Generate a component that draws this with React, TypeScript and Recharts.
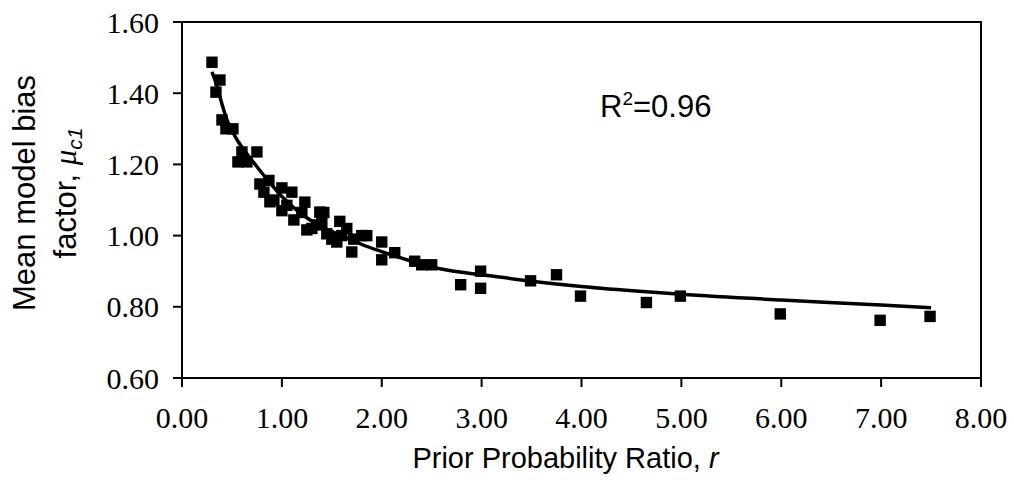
import React from 'react';
import {
  ComposedChart,
  Scatter,
  Line,
  XAxis,
  YAxis,
  ZAxis,
  ReferenceArea,
  Label,
} from 'recharts';

// observed points: prior probability ratio r vs mean model bias factor
const obsR = [
  0.30, 0.34, 0.38, 0.40, 0.44, 0.51, 0.56, 0.60, 0.65, 0.75,
  0.78, 0.82, 0.87, 0.88, 0.92, 1.00, 1.00, 1.05, 1.10, 1.12,
  1.20, 1.23, 1.25, 1.30, 1.35, 1.38, 1.40, 1.42, 1.45, 1.50,
  1.55, 1.58, 1.60, 1.65, 1.70, 1.72, 1.80, 1.85, 2.00, 2.00,
  2.13, 2.33, 2.40, 2.50, 2.79, 2.99, 2.99, 3.49, 3.75, 3.99,
  4.65, 4.99, 5.99, 6.99, 7.49,
];
const obsBias = [
  1.487, 1.403, 1.437, 1.325, 1.300, 1.300, 1.207, 1.235, 1.207, 1.235,
  1.145, 1.122, 1.155, 1.095, 1.100, 1.134, 1.070, 1.085, 1.122, 1.044,
  1.065, 1.094, 1.016, 1.020, 1.030, 1.066, 1.035, 1.065, 1.005, 0.990,
  0.982, 1.040, 1.000, 1.020, 0.954, 0.990, 1.000, 1.000, 0.982, 0.932,
  0.952, 0.928, 0.918, 0.918, 0.862, 0.900, 0.852, 0.873, 0.890, 0.830,
  0.812, 0.830, 0.780, 0.762, 0.773,
];

// fitted curve
const fitR = [
  0.30, 0.35, 0.40, 0.45, 0.50, 0.56, 0.65, 0.76, 0.86, 1.00,
  1.20, 1.40, 1.60, 1.80, 2.00, 2.30, 2.50, 2.80, 3.00, 3.50,
  4.00, 4.65, 5.00, 6.00, 7.00, 7.50,
];
const fitBias = [
  1.460, 1.420, 1.370, 1.325, 1.295, 1.265, 1.230, 1.190, 1.155, 1.110,
  1.060, 1.025, 1.000, 0.975, 0.955, 0.928, 0.912, 0.897, 0.890, 0.872,
  0.857, 0.842, 0.835, 0.819, 0.805, 0.797,
];

const xTicks = [0, 1, 2, 3, 4, 5, 6, 7, 8];
const yTicks = [0.6, 0.8, 1.0, 1.2, 1.4, 1.6];

const points = obsR.map((r, i) => ({ x: r, y: obsBias[i] }));
const fit = fitR.map((r, i) => ({ x: r, y: fitBias[i] }));

const SERIF = '"Liberation Serif", "Times New Roman", serif';
const SANS = '"Liberation Sans", Arial, sans-serif';
const tickStyle = { fontFamily: SERIF, fontSize: 30, fill: '#000' };

const YTitle = () => (
  <text
    transform="translate(0,193) rotate(-90)"
    textAnchor="middle"
    fontFamily={SANS}
    fontSize={31}
    fill="#000"
  >
    <tspan x={0} y={35}>Mean model bias</tspan>
    <tspan x={0} y={76}>
      factor,{' '}
      <tspan fontStyle="italic" fontFamily={SERIF}>μ</tspan>
      <tspan fontStyle="italic" fontSize={21} dy={6}>c1</tspan>
    </tspan>
  </text>
);

const XTitle = ({ viewBox }: any) => (
  <text
    x={viewBox.x + viewBox.width / 2 - 16}
    y={viewBox.y + 90}
    textAnchor="middle"
    fontFamily={SANS}
    fontSize={29}
    fill="#000"
  >
    Prior Probability Ratio, <tspan fontStyle="italic">r</tspan>
  </text>
);

export default function App() {
  return (
    <div style={{ position: 'absolute', left: 0, top: 0, width: 1014, height: 495, background: '#fff' }}>
      <ComposedChart width={1014} height={495} margin={{ top: 22, right: 33, bottom: 0, left: 0 }}>
        <XAxis
          type="number"
          dataKey="x"
          domain={[0, 8]}
          ticks={xTicks}
          interval={0}
          tickFormatter={(v: number) => v.toFixed(2)}
          height={117}
          tickSize={9}
          tickMargin={20}
          tick={tickStyle}
          axisLine={{ stroke: '#000', strokeWidth: 2 }}
          tickLine={{ stroke: '#000', strokeWidth: 2 }}
          allowDataOverflow
        >
          <Label content={XTitle} />
        </XAxis>
        <YAxis
          type="number"
          dataKey="y"
          domain={[0.6, 1.6]}
          ticks={yTicks}
          interval={0}
          tickFormatter={(v: number) => v.toFixed(2)}
          width={182}
          tickSize={9}
          tickMargin={14}
          tick={tickStyle}
          axisLine={{ stroke: '#000', strokeWidth: 2 }}
          tickLine={{ stroke: '#000', strokeWidth: 2 }}
          allowDataOverflow
        >
          <Label content={YTitle} />
        </YAxis>
        <ZAxis range={[130, 130]} />
        <ReferenceArea x1={0} x2={8} y1={0.6} y2={1.6} fill="none" stroke="#000" strokeWidth={2} />
        <Scatter data={points} fill="#000" shape="square" isAnimationActive={false} />
        <Line
          data={fit}
          dataKey="y"
          type="monotone"
          stroke="#000"
          strokeWidth={3.5}
          dot={false}
          activeDot={false}
          isAnimationActive={false}
        />
      </ComposedChart>
      <div
        style={{
          position: 'absolute',
          left: 600,
          top: 91,
          fontFamily: SANS,
          fontSize: 31,
          color: '#000',
          lineHeight: 1,
        }}
      >
        R<sup style={{ fontSize: 19, verticalAlign: 'top', position: 'relative', top: -2 }}>2</sup>=0.96
      </div>
    </div>
  );
}
